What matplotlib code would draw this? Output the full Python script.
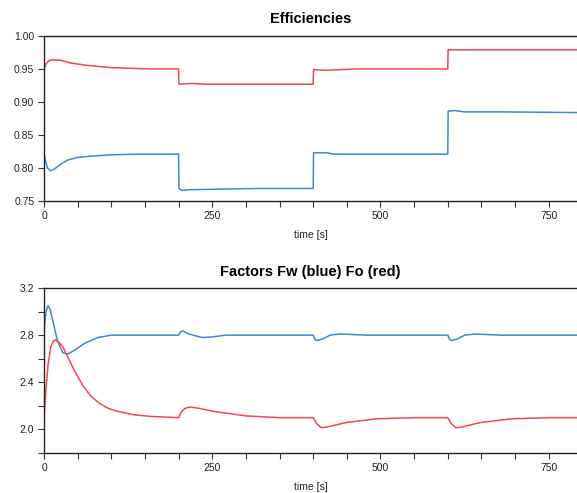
import matplotlib.pyplot as plt
from matplotlib.ticker import MultipleLocator, FormatStrFormatter

plt.rcParams['font.family'] = ['Liberation Sans', 'DejaVu Sans']

RED = '#ee4a4a'
BLUE = '#3f86d8'

# Efficiencies (red / blue)
eff_red_t = [0, 3, 8, 15, 25, 40, 60, 80, 100, 130, 160, 200, 200.5, 220, 240, 400,
             400.5, 420, 460, 600, 600.5, 792]
eff_red = [0.950, 0.958, 0.963, 0.964, 0.963, 0.959, 0.956, 0.954, 0.952, 0.951, 0.950,
           0.950, 0.927, 0.928, 0.927, 0.927, 0.949, 0.948, 0.950, 0.950, 0.979, 0.979]

eff_blue_t = [0, 2, 5, 10, 15, 25, 35, 50, 70, 100, 140, 200, 200.5, 205, 215, 260, 320,
              400, 400.5, 420, 430, 600, 600.5, 610, 625, 680, 792]
eff_blue = [0.822, 0.812, 0.800, 0.796, 0.798, 0.806, 0.812, 0.816, 0.818, 0.820, 0.821,
            0.821, 0.769, 0.766, 0.767, 0.768, 0.769, 0.769, 0.823, 0.823, 0.821, 0.821,
            0.886, 0.887, 0.885, 0.885, 0.884]

# Factors Fw (blue) and Fo (red)
fw_t = [0, 1, 3, 6, 9, 14, 20, 28, 35, 45, 60, 80, 100, 150, 200, 203, 207, 215, 235,
        250, 270, 400, 403, 407, 415, 425, 440, 480, 600, 603, 607, 615, 625, 640, 680, 792]
fw = [2.85, 2.90, 3.00, 3.05, 3.02, 2.90, 2.75, 2.65, 2.64, 2.67, 2.73, 2.78, 2.80, 2.80,
      2.80, 2.83, 2.835, 2.81, 2.78, 2.785, 2.80, 2.80, 2.76, 2.755, 2.77, 2.80, 2.81,
      2.80, 2.80, 2.76, 2.755, 2.77, 2.80, 2.81, 2.80, 2.80]

fo_t = [0, 3, 6, 10, 14, 17, 22, 28, 34, 45, 58, 70, 83, 95, 108, 133, 160, 200, 204,
        210, 217, 230, 250, 300, 350, 400, 405, 412, 420, 450, 494, 550, 600, 605, 612,
        620, 650, 694, 750, 792]
fo = [2.10, 2.35, 2.55, 2.70, 2.75, 2.76, 2.74, 2.70, 2.63, 2.50, 2.37, 2.28, 2.22, 2.18,
      2.155, 2.125, 2.11, 2.10, 2.15, 2.18, 2.19, 2.18, 2.155, 2.115, 2.10, 2.10, 2.05,
      2.015, 2.02, 2.06, 2.09, 2.10, 2.10, 2.05, 2.015, 2.02, 2.06, 2.09, 2.10, 2.10]

fig = plt.figure(figsize=(5.77, 4.93), dpi=100)
ax1 = fig.add_axes([0.0763, 0.5923, 0.9237, 0.3347])
ax2 = fig.add_axes([0.0763, 0.0811, 0.9237, 0.3347])


def style_axis(ax):
    ax.spines['right'].set_visible(False)
    for s in ('left', 'bottom', 'top'):
        ax.spines[s].set_color('#222222')
        ax.spines[s].set_linewidth(1.0)
    ax.set_xlim(0, 792)
    ax.xaxis.set_major_locator(MultipleLocator(250))
    ax.xaxis.set_minor_locator(MultipleLocator(50))
    ax.tick_params(which='both', direction='out', length=4, width=0.8, color='#333333',
                   labelsize=7.5, labelcolor='#222222', pad=3)
    ax.set_xlabel('time [s]', fontsize=7.5, color='#222222', labelpad=6.5)


ax1.plot(eff_red_t, eff_red, color=RED, lw=1.1)
ax1.plot(eff_blue_t, eff_blue, color=BLUE, lw=1.1)
style_axis(ax1)
ax1.set_ylim(0.75, 1.0)
ax1.yaxis.set_major_locator(MultipleLocator(0.05))
ax1.yaxis.set_major_formatter(FormatStrFormatter('%.2f'))
ax1.set_title('Efficiencies', fontsize=10.5, fontweight='bold', pad=9)

ax2.plot(fw_t, fw, color=BLUE, lw=1.1)
ax2.plot(fo_t, fo, color=RED, lw=1.1)
style_axis(ax2)
ax2.set_ylim(1.8, 3.2)
ax2.yaxis.set_major_locator(MultipleLocator(0.4))
ax2.yaxis.set_minor_locator(MultipleLocator(0.2))
ax2.yaxis.set_major_formatter(FormatStrFormatter('%.1f'))
ax2.set_yticks([2.0, 2.4, 2.8, 3.2])
ax2.set_title('Factors Fw (blue) Fo (red)', fontsize=10.5, fontweight='bold', pad=9)

fig.savefig('out.png', dpi=100)
